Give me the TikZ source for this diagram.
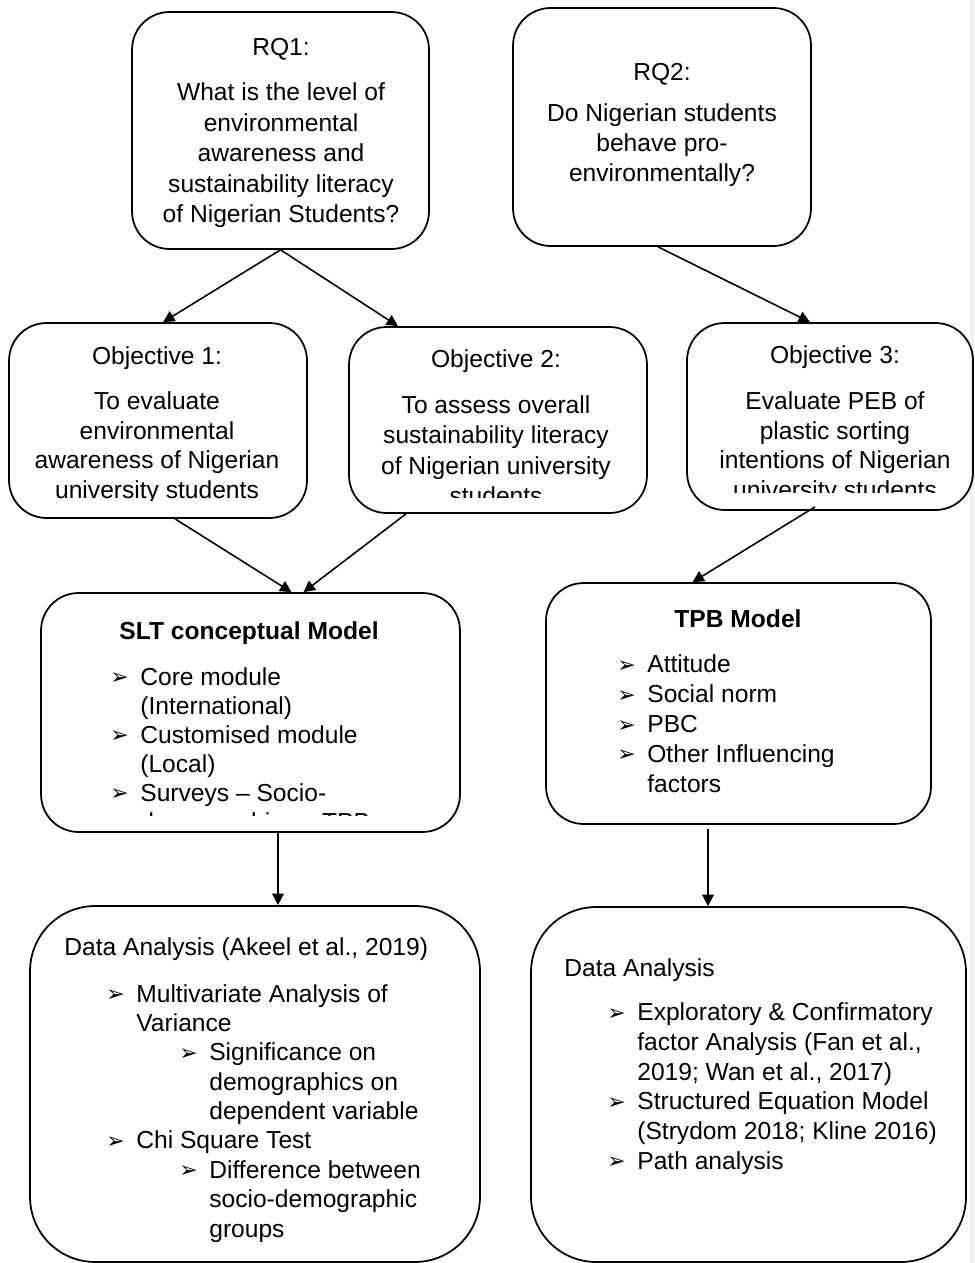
\documentclass[tikz,border=0pt]{standalone}
\usepackage{fontspec}
\setmainfont{Liberation Sans}
\newfontfamily\symfont{DejaVu Sans}
\usetikzlibrary{arrows.meta,calc}
\newcommand{\bul}{\makebox[0.6cm][l]{\raisebox{0.2pt}{\symfont\fontsize{12.5}{12.5}\selectfont ➢}}}
\newcommand{\ind}{\hspace*{0.6cm}}
\newcommand{\indd}{\hspace*{1.46cm}}
\newcommand{\inddd}{\hspace*{2.06cm}}
\begin{document}
\begin{tikzpicture}[x=0.02cm, y=-0.02cm,
    box/.style={draw, line width=1pt, rounded corners=0.75cm, inner sep=0},
    bigbox/.style={box, rounded corners=1.3cm},
    txt/.style={inner sep=0, font=\fontsize{14}{#1}\selectfont},
    txt/.default=17pt,
    arr/.style={-{Triangle[length=6.5pt,width=6.5pt]}, line width=0.9pt}]
  \useasboundingbox (0,0) rectangle (974,1263);
  \fill[black!6] (970,0) rectangle (974,1263);

  % boxes
  \node[box, minimum width=5.94cm, minimum height=4.74cm] (rq1) at (280.5,130.5) {};
  \node[box, minimum width=5.96cm, minimum height=4.76cm] (rq2) at (662,127) {};
  \node[box, minimum width=5.96cm, minimum height=3.9cm] (obj1) at (158,420.5) {};
  \node[box, minimum width=5.96cm, minimum height=3.72cm] (obj2) at (498,420) {};
  \node[box, minimum width=5.72cm, minimum height=3.74cm] (obj3) at (830,416.5) {};
  \node[box, minimum width=8.38cm, minimum height=4.78cm] (slt) at (250.5,712.5) {};
  \node[box, minimum width=7.7cm, minimum height=4.82cm] (tpb) at (738.5,703.5) {};
  \node[bigbox, minimum width=9cm, minimum height=7.12cm] (da1) at (255,1084) {};
  \node[bigbox, minimum width=8.7cm, minimum height=7.1cm] (da2) at (748.5,1084.5) {};

  % texts (anchored on the baseline of the last line)
  \node[txt=17.4pt, align=center, anchor=base] (rq1t) at (281,223)
    {RQ1:\\[8.2pt]What is the level of\\environmental\\awareness and\\sustainability literacy\\of Nigerian Students?};
  \node[txt=17.1pt, align=center, anchor=base] (rq2t) at (662,182)
    {RQ2:\\[6.3pt]Do Nigerian students\\behave pro-\\environmentally?};
  \begin{scope}
    \clip (9,323) rectangle (307,500);
    \node[txt=16.8pt, align=center, anchor=base] (obj1t) at (157,498.5)
      {Objective 1:\\[8.8pt]To evaluate\\environmental\\awareness of Nigerian\\university students};
  \end{scope}
  \begin{scope}
    \clip (349,327) rectangle (647,497);
    \node[txt=17.35pt, align=center, anchor=base] (obj2t) at (496,504.5)
      {Objective 2:\\[8.8pt]To assess overall\\sustainability literacy\\of Nigerian university\\students};
  \end{scope}
  \begin{scope}
    \clip (687,323) rectangle (973,492);
    \node[txt=16.7pt, align=center, anchor=base] (obj3t) at (835,498)
      {Objective 3:\\[9.5pt]Evaluate PEB of\\plastic sorting\\intentions of Nigerian\\university students};
  \end{scope}

  \node[txt, anchor=base, font=\fontsize{14}{17}\selectfont\bfseries] (sltt) at (249,639) {SLT conceptual Model};
  \begin{scope}
    \clip (41,593) rectangle (460,815);
    \node[txt=16.5pt, align=left, anchor=base west] (sltl) at (110,830)
      {\bul Core module\\\ind(International)\\\bul Customised module\\\ind(Local)\\\bul Surveys -- Socio-\\\ind demographics -- TPB};
  \end{scope}

  \node[txt, anchor=base, font=\fontsize{14}{17}\selectfont\bfseries] (tpbt) at (738,627) {TPB Model};
  \node[txt=16.96pt, align=left, anchor=base west] (tpbl) at (617,792)
    {\bul Attitude\\\bul Social norm\\\bul PBC\\\bul Other Influencing\\\ind factors};

  \node[txt, anchor=base west] (da1t) at (64,955) {Data Analysis (Akeel et al., 2019)};
  \begin{scope}
    \clip (30,906) rectangle (480,1241);
    \node[txt=16.7pt, align=left, anchor=base west] (da1l) at (106,1237)
      {\bul Multivariate Analysis of\\\ind Variance\\\indd\bul Significance on\\\inddd demographics on\\\inddd dependent variable\\\bul Chi Square Test\\\indd\bul Difference between\\\inddd socio-demographic\\\inddd groups};
  \end{scope}

  \node[txt, anchor=base west] (da2t) at (564,976) {Data Analysis};
  \node[txt=16.85pt, align=left, anchor=base west] (da2l) at (607,1169)
    {\bul Exploratory \& Confirmatory\\\ind factor Analysis (Fan et al.,\\\ind 2019; Wan et al., 2017)\\\bul Structured Equation Model\\\ind(Strydom 2018; Kline 2016)\\\bul Path analysis};

  % arrows
  \draw[arr] (rq1.south) -- ($(obj1.north)+(5,0)$);
  \draw[arr] (rq1.south) -- ($(obj2.north)+(-100,0)$);
  \draw[arr] ($(rq2.south)+(-4,0)$) -- ($(obj3.north)+(-20,0)$);
  \draw[arr] ($(obj1.south)+(17,0)$) -- ($(slt.north)+(41,0)$);
  \draw[arr] ($(obj2.south)+(-92,0)$) -- ($(slt.north)+(53,0)$);
  \draw[arr] ($(obj3.south)+(-15,-4)$) -- ($(tpb.north)+(-46,0)$);
  \draw[arr] ($(slt.south)+(27.5,0)$) -- ($(da1.north)+(23,0)$);
  \draw[arr] ($(tpb.south)+(-30.5,4)$) -- ($(da2.north)+(-40.5,0)$);
\end{tikzpicture}
\end{document}
